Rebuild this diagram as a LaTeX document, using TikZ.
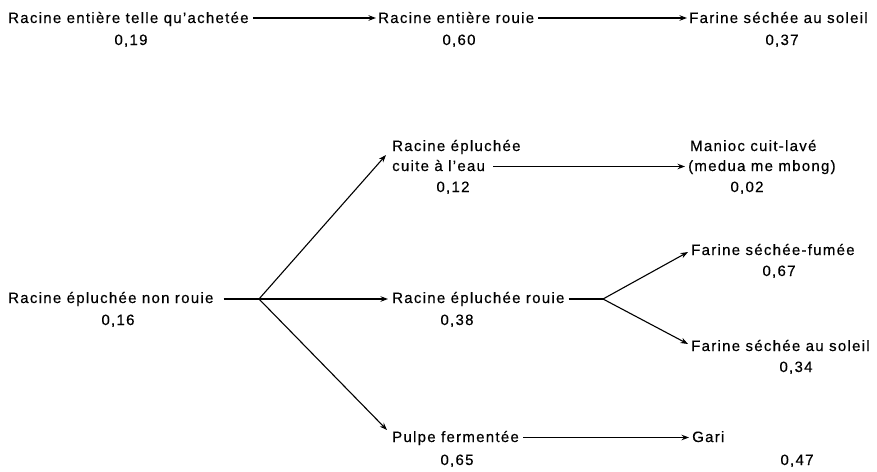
\documentclass[tikz,border=0pt]{standalone}
\usepackage{fontspec}
\setmainfont{Liberation Sans}[LetterSpace=8.5,FakeBold=0.4]
\usetikzlibrary{arrows.meta}
\begin{document}
\begin{tikzpicture}[x=1pt,y=-1pt,
  lbl/.style={inner sep=0pt,anchor=base west,font=\fontsize{15pt}{18pt}\selectfont},
  num/.style={inner sep=0pt,anchor=base,font=\fontsize{15pt}{18pt}\selectfont},
  arr/.style={line width=1.1pt,-{Stealth[length=7.5pt,width=5.5pt]}},
  ln/.style={line width=1.1pt}]
\useasboundingbox (0,0) rectangle (877,471);
% row 1
\node[lbl] (r1a) at (8,23) {Racine entière telle qu’achetée};
\node[num] (n1a) at (131,45) {0,19};
\node[lbl] (r1b) at (378,23) {Racine entière rouie};
\node[num] (n1b) at (459,45) {0,60};
\node[lbl] (r1c) at (689,23) {Farine séchée au soleil};
\node[num] (n1c) at (782,45) {0,37};
% cuite
\node[lbl] (c1) at (392,151) {Racine épluchée};
\node[lbl] (c2) at (392,171) {cuite à l’eau};
\node[num] (nc) at (453,192) {0,12};
\node[lbl] (m1) at (690,151) {Manioc cuit-lavé};
\node[lbl] (m2) at (688,171) {(medua me mbong)};
\node[num] (nm) at (747,192) {0,02};
% middle
\node[lbl] (p1) at (8,303) {Racine épluchée non rouie};
\node[num] (np) at (118,325) {0,16};
\node[lbl] (p2) at (392,303) {Racine épluchée rouie};
\node[num] (np2) at (457,325) {0,38};
\node[lbl] (f1) at (691,255) {Farine séchée-fumée};
\node[num] (nf1) at (779,276) {0,67};
\node[lbl] (f2) at (691,351) {Farine séchée au soleil};
\node[num] (nf2) at (796,372) {0,34};
% bottom
\node[lbl] (g1) at (392,442) {Pulpe fermentée};
\node[num] (ng1) at (457,465) {0,65};
\node[lbl] (g2) at (692,442) {Gari};
\node[num] (ng2) at (797,465) {0,47};
% branch points
\coordinate (b1) at (259,299);
\coordinate (b2) at (603,299);
% arrows
\draw[arr] ([xshift=4pt,yshift=5pt]r1a.base east) -- ([xshift=-2pt,yshift=5pt]r1b.base west);
\draw[arr] ([xshift=4pt,yshift=5pt]r1b.base east) -- ([xshift=-2pt,yshift=5pt]r1c.base west);
\draw[arr] ([xshift=8pt,yshift=4.5pt]c2.base east) -- ([xshift=-3pt,yshift=4.5pt]m2.base west);
\draw[ln] ([xshift=10pt,yshift=4pt]p1.base east) -- (b1);
\draw[arr] (b1) -- ([xshift=-6pt,yshift=16pt]c2.base west);
\draw[arr] (b1) -- ([xshift=-4pt,yshift=4pt]p2.base west);
\draw[arr] (b1) -- ([xshift=-5pt,yshift=12pt]g1.base west);
\draw[ln] ([xshift=4pt,yshift=4pt]p2.base east) -- (b2);
\draw[arr] (b2) -- ([xshift=-3pt,yshift=3pt]f1.base west);
\draw[arr] (b2) -- ([xshift=-3pt,yshift=7pt]f2.base west);
\draw[arr] ([xshift=4pt,yshift=4.5pt]g1.base east) -- ([xshift=-3pt,yshift=4.5pt]g2.base west);
\end{tikzpicture}
\end{document}
